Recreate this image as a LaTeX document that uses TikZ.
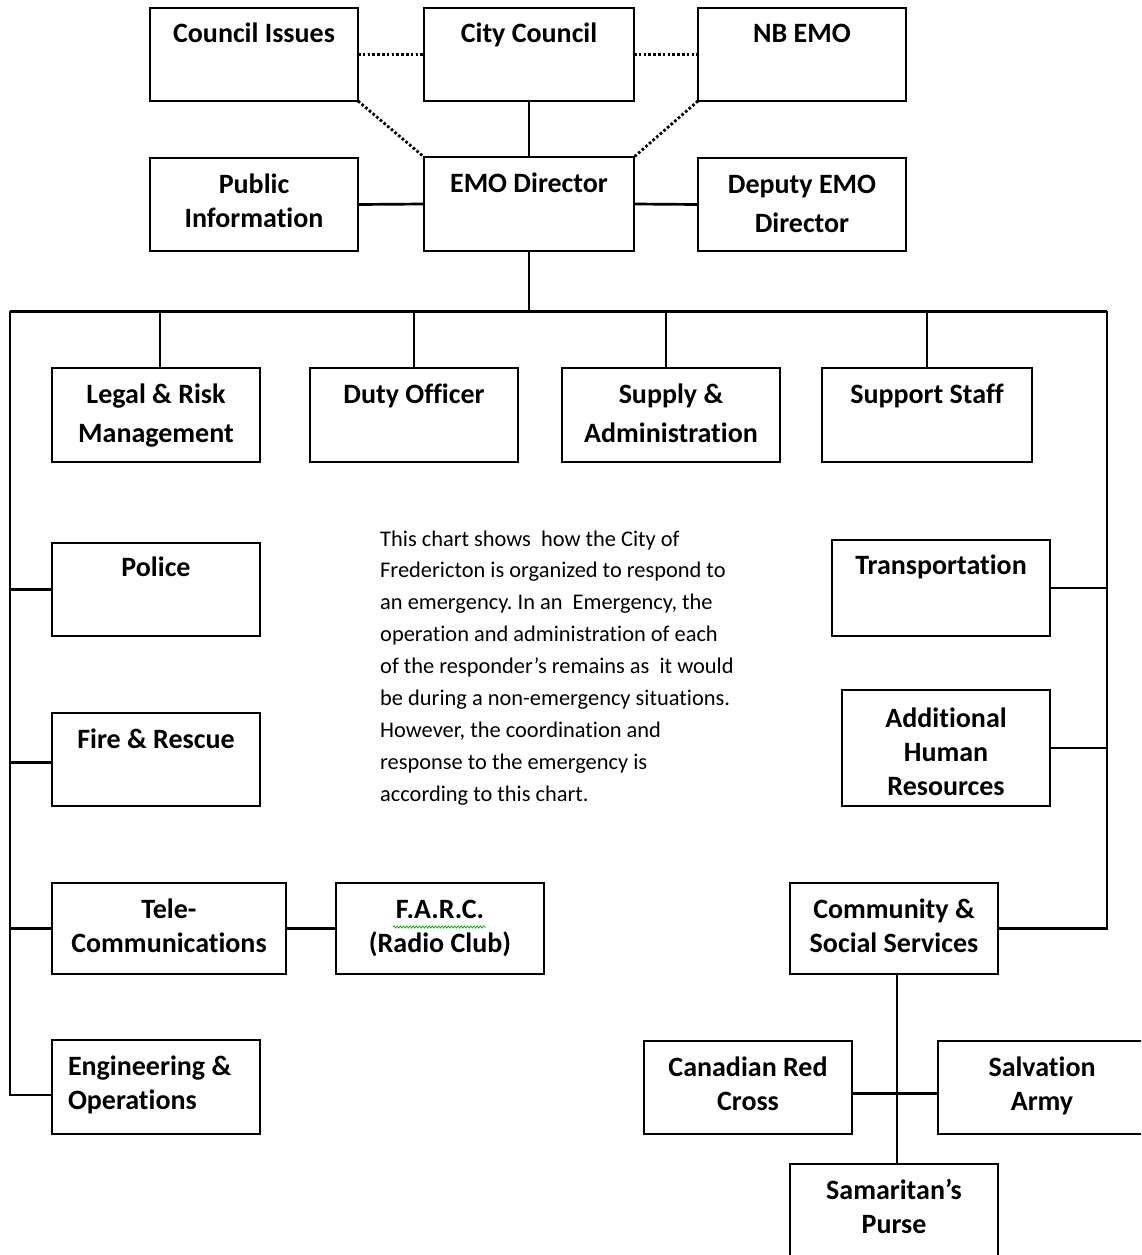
\documentclass[tikz,border=0pt]{standalone}
\usepackage{fontspec}
\setmainfont{Carlito}[Ligatures=CommonOff]
\usetikzlibrary{decorations.pathmorphing}
\tikzset{
  orgbox/.style={draw=black, line width=1.9pt, inner sep=0pt, outer sep=0pt, anchor=north west,
    font=\fontsize{28}{34}\bfseries\selectfont},
  link/.style={line width=2.7pt},
  dotlink/.style={line width=2.8pt, dash pattern=on 2.6pt off 2.2pt},
}
\newcommand\bxfb{35}
\newcommand\bxls{34}
\newcommand\bxalign{\centering}
\newcommand\orgbox[7][]{\begingroup#1%
  \pgfmathsetmacro\bw{#5-#3}\pgfmathsetmacro\bh{#6-#4}%
  \node[orgbox] (#2) at (#3,#4) {\parbox[t][\bh pt][t]{\bw pt}{\bxalign\baselineskip=\bxls pt\relax\rule{0pt}{\bxfb pt}#7}};%
\endgroup}
\begin{document}
\frenchspacing
\begin{tikzpicture}[x=1pt,y=-1pt]
\useasboundingbox (0,0) rectangle (1141,1255);
\fill[white] (0,0) rectangle (1141,1255);
\clip (0,0) rectangle (1141,1255);

% top levels
\orgbox{ci}{150}{8}{358}{101}{Council Issues}
\orgbox{cc}{424}{8}{634}{101}{City Council}
\orgbox{nb}{698}{8}{906}{101}{NB EMO}
\orgbox{pi}{150}{158}{358}{251}{Public\\Information}
\orgbox{emo}{424}{157}{634}{251}{EMO Director}
\orgbox[\def\bxls{39}]{dep}{698}{158}{906}{251}{Deputy EMO\\Director}

% second row
\orgbox[\def\bxls{39}]{legal}{52}{368}{260}{462}{Legal \& Risk\\Management}
\orgbox{duty}{310}{368}{518}{462}{Duty Officer}
\orgbox[\def\bxls{39}]{supply}{562}{368}{780}{462}{Supply \&\\Administration}
\orgbox{staff}{822}{368}{1032}{462}{Support Staff}

% left column
\orgbox[\def\bxfb{33}]{police}{52}{543}{260}{636}{Police}
\orgbox{fire}{52}{713}{260}{806}{Fire \& Rescue}
\orgbox{tele}{52}{883}{286}{974}{Tele-\\Communications}
\orgbox{farc}{336}{883}{544}{974}{F.A.R.C.\\(Radio Club)}
\orgbox[\def\bxalign{\raggedright\leftskip=16pt\relax}]{eng}{52}{1040}{260}{1134}{Engineering \&\\Operations}

% right column
\orgbox[\def\bxfb{34}]{trans}{832}{540}{1050}{636}{Transportation}
\orgbox[\def\bxfb{37}]{ahr}{842}{690}{1050}{806}{Additional\\Human\\Resources}
\orgbox{css}{790}{883}{998}{974}{Community \&\\Social Services}
\orgbox{crc}{644}{1041}{852}{1134}{Canadian Red\\Cross}
\orgbox{sal}{938}{1041}{1146}{1134}{Salvation\\Army}
\orgbox{sam}{790}{1164}{998}{1262}{Samaritan’s\\Purse}

% explanatory text
\node[anchor=base west, inner sep=0pt, font=\fontsize{22.4}{32}\selectfont] (note) at (380,546)
 {\parbox[t]{420pt}{\raggedright\baselineskip=31.9pt\relax
 This chart shows\ \ how the City of\\
 Fredericton is organized to respond to\\
 an emergency. In an\ \ Emergency, the\\
 operation and administration of each\\
 of the responder’s remains as\ \ it would\\
 be during a non-emergency situations.\\
 However, the coordination and\\
 response to the emergency is\\
 according to this chart.}};

% spell-check squiggle under F.A.R.C.
\draw[green!65!black, line width=0.7pt, decorate, decoration={snake, amplitude=1.1pt, segment length=3.2pt}]
  (393,927) -- (486,927);

% connectors: top
\draw[dotlink] (ci.east) -- (cc.west);
\draw[dotlink] (cc.east) -- (nb.west);
\draw[dotlink] (ci.south east) -- (emo.north west);
\draw[dotlink] (nb.south west) -- (emo.north east);
\draw[link] (cc.south) -- (emo.north);
\draw[link] (pi.east) -- (emo.west);
\draw[link] (emo.east) -- (dep.west);

% bus
\coordinate (busL) at (10,311);
\coordinate (busR) at (1107,311);
\draw[link] (emo.south) -- (emo.south |- busL);
\draw[link, line width=3pt] (busL) -- (busR);
\draw[link] ([xshift=4pt]legal.north) -- ([xshift=4pt]legal.north |- busL);
\draw[link] (duty.north) -- (duty.north |- busL);
\draw[link] ([xshift=-5pt]supply.north) -- ([xshift=-5pt]supply.north |- busL);
\draw[link] (staff.north) -- (staff.north |- busL);

% left trunk
\draw[link] (busL) |- ([yshift=-8pt]eng.west);
\draw[link] (police.west) -- (police.west -| busL);
\draw[link] ([yshift=-3pt]fire.west) -- ([yshift=-3pt]fire.west -| busL);
\draw[link] (tele.west) -- (tele.west -| busL);
\draw[link] (tele.east) -- (farc.west);

% right trunk
\draw[link] (busR) |- (css.east);
\draw[link] (trans.east) -- (trans.east -| busR);
\draw[link] (ahr.east) -- (ahr.east -| busR);

% community branch
\draw[link] ([xshift=3pt]css.south) -- ([xshift=3pt]sam.north);
\draw[link] ([yshift=-6pt]crc.east) -- ([yshift=-6pt]sal.west);
\end{tikzpicture}
\end{document}
